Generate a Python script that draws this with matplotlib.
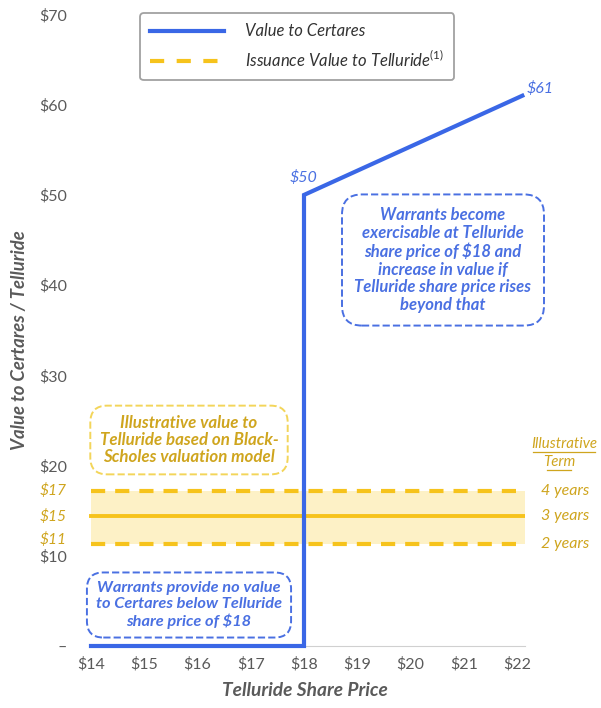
import matplotlib.pyplot as plt
from matplotlib.lines import Line2D

plt.rcParams['font.family'] = ['Lato', 'DejaVu Sans']
plt.rcParams['mathtext.fontset'] = 'custom'
plt.rcParams['mathtext.it'] = 'Lato:italic'
plt.rcParams['mathtext.rm'] = 'Lato'

# data
share_price = [14, 18, 18, 22.1]
certares_value = [0, 0, 50, 61]
term_labels = ["2 years", "3 years", "4 years"]
issuance_value = [11.3, 14.4, 17.2]
issuance_labels = ["$11", "$15", "$17"]
band_x = [14, 22.15]
x_ticks = [14, 15, 16, 17, 18, 19, 20, 21, 22]
y_ticks = [0, 10, 20, 30, 40, 50, 60, 70]

BLUE = "#3A67E6"
BLUE_TXT = "#4A70E2"
YELLOW = "#F6C31C"
BAND = "#FDF1C6"
GOLD = "#CFA51E"
GREY = "#5a5a5a"

fig = plt.figure(figsize=(6.01, 7.08), dpi=100)
ax = fig.add_axes([78 / 601, 62 / 708, 447 / 601, 636 / 708])
ax.set_xlim(13.756, 22.15)
ax.set_ylim(0, 70.5)

# issuance value band
ax.fill_between(band_x, issuance_value[0], issuance_value[2], color=BAND, lw=0, zorder=1)
for i, v in enumerate(issuance_value):
    if i == 1:
        ax.plot(band_x, [v, v], color=YELLOW, lw=2.8, zorder=2)
    else:
        ax.plot(band_x, [v, v], color=YELLOW, lw=3, ls=(0, (3.4, 2.4)), zorder=2)

# value to Certares
ax.plot(share_price, certares_value, color=BLUE, lw=3, zorder=3, clip_on=False,
        solid_joinstyle='miter')

for s in ['top', 'right', 'left']:
    ax.spines[s].set_visible(False)
ax.spines['bottom'].set_color('#d0d0d0')
ax.spines['bottom'].set_bounds(14, 22.15)

ax.set_xticks(x_ticks)
ax.set_xticklabels([f"\\${x}" for x in x_ticks], color=GREY, fontsize=11.5)
ax.set_yticks(y_ticks)
ax.set_yticklabels(["–" if y == 0 else f"\\${y}" for y in y_ticks], color=GREY, fontsize=11.5)
ax.tick_params(length=0, pad=8)

# gold labels for the issuance lines, on the left like ticks
nudge = [3, 0, 0]
for v, s, dy in zip(issuance_value, issuance_labels, nudge):
    ax.annotate(s.replace("$", "\\$"), xy=(0, v), xycoords=('axes fraction', 'data'),
                xytext=(-8, dy), textcoords='offset points', ha='right', va='center',
                color=GOLD, fontsize=11.2, style='italic', annotation_clip=False)

# right term labels
for v, t in zip(issuance_value, term_labels):
    ax.text(22.45, v, t, color=GOLD, fontsize=11.5, style='italic', va='center', ha='left',
            clip_on=False)
fig.text(564 / 601, 1 - 444 / 708, "Illustrative", color=GOLD, fontsize=10.8, style='italic',
         ha='center', va='center')
fig.text(559 / 601, 1 - 462 / 708, "Term", color=GOLD, fontsize=10.8, style='italic',
         ha='center', va='center')
fig.add_artist(Line2D([533 / 601, 595 / 601], [1 - 452 / 708, 1 - 452 / 708], color=GOLD, lw=0.9))
fig.add_artist(Line2D([547 / 601, 571 / 601], [1 - 470 / 708, 1 - 470 / 708], color=GOLD, lw=0.9))

# point labels
ax.text(share_price[2], 51.9, f"\\${certares_value[2]}", color=BLUE_TXT, fontsize=11.5, style='italic',
        ha='center', va='center')
ax.text(22.43, 61.8, f"\\${certares_value[3]}", color=BLUE_TXT, fontsize=11.5, style='italic',
        ha='center', va='center', clip_on=False)

# annotation boxes
ax.text(443 / 601, 1 - 260 / 708,
        "Warrants become\nexercisable at Telluride\nshare price of \\$18 and\nincrease in value if\n"
        "Telluride share price rises\nbeyond that",
        transform=fig.transFigure, color=BLUE_TXT, fontsize=12, fontweight='bold', style='italic',
        ha='center', va='center', linespacing=1.13,
        bbox=dict(boxstyle='round,pad=0.75,rounding_size=1.2', fc='white', ec=BLUE_TXT, ls='--', lw=1.4))
ax.text(189 / 601, 1 - 440 / 708,
        "Illustrative value to\nTelluride based on Black-\nScholes valuation model",
        transform=fig.transFigure, color=GOLD, fontsize=12.2, fontweight='bold', style='italic',
        ha='center', va='center', linespacing=1.08,
        bbox=dict(boxstyle='round,pad=0.55,rounding_size=1.0', fc='white', ec="#F3D55A", ls='--', lw=1.4))
ax.text(189 / 601, 1 - 605 / 708,
        "Warrants provide no value\nto Certares below Telluride\nshare price of \\$18",
        transform=fig.transFigure, color=BLUE_TXT, fontsize=11.8, fontweight='bold', style='italic',
        ha='center', va='center', linespacing=1.15,
        bbox=dict(boxstyle='round,pad=0.55,rounding_size=1.0', fc='white', ec=BLUE_TXT, ls='--', lw=1.4))

# axis titles
fig.text(20 / 601, 1 - 340 / 708, "Value to Certares / Telluride", rotation=90, color=GREY,
         fontsize=13.3, fontweight='bold', style='italic', ha='center', va='center')
fig.text(305 / 601, 1 - 690 / 708, "Telluride Share Price", color=GREY,
         fontsize=13.8, fontweight='bold', style='italic', ha='center', va='center')

# legend
handles = [Line2D([], [], color=BLUE, lw=3),
           Line2D([], [], color=YELLOW, lw=3, ls=(0, (3.4, 3.0)))]
leg = fig.legend(handles, ["Value to Certares", "Issuance Value to Telluride$^{(1)}$"],
                 loc='upper left', bbox_to_anchor=(132 / 601, 1 - 5 / 708),
                 frameon=True, fancybox=True, handlelength=4.4, fontsize=12,
                 borderpad=0.6, labelspacing=0.65, handletextpad=1.3)
leg.get_frame().set_edgecolor('#8a8a8a')
leg.get_frame().set_linewidth(1.3)
for t in leg.get_texts():
    t.set_style('italic')
    t.set_color('#333333')

fig.savefig("out.png", dpi=100)
